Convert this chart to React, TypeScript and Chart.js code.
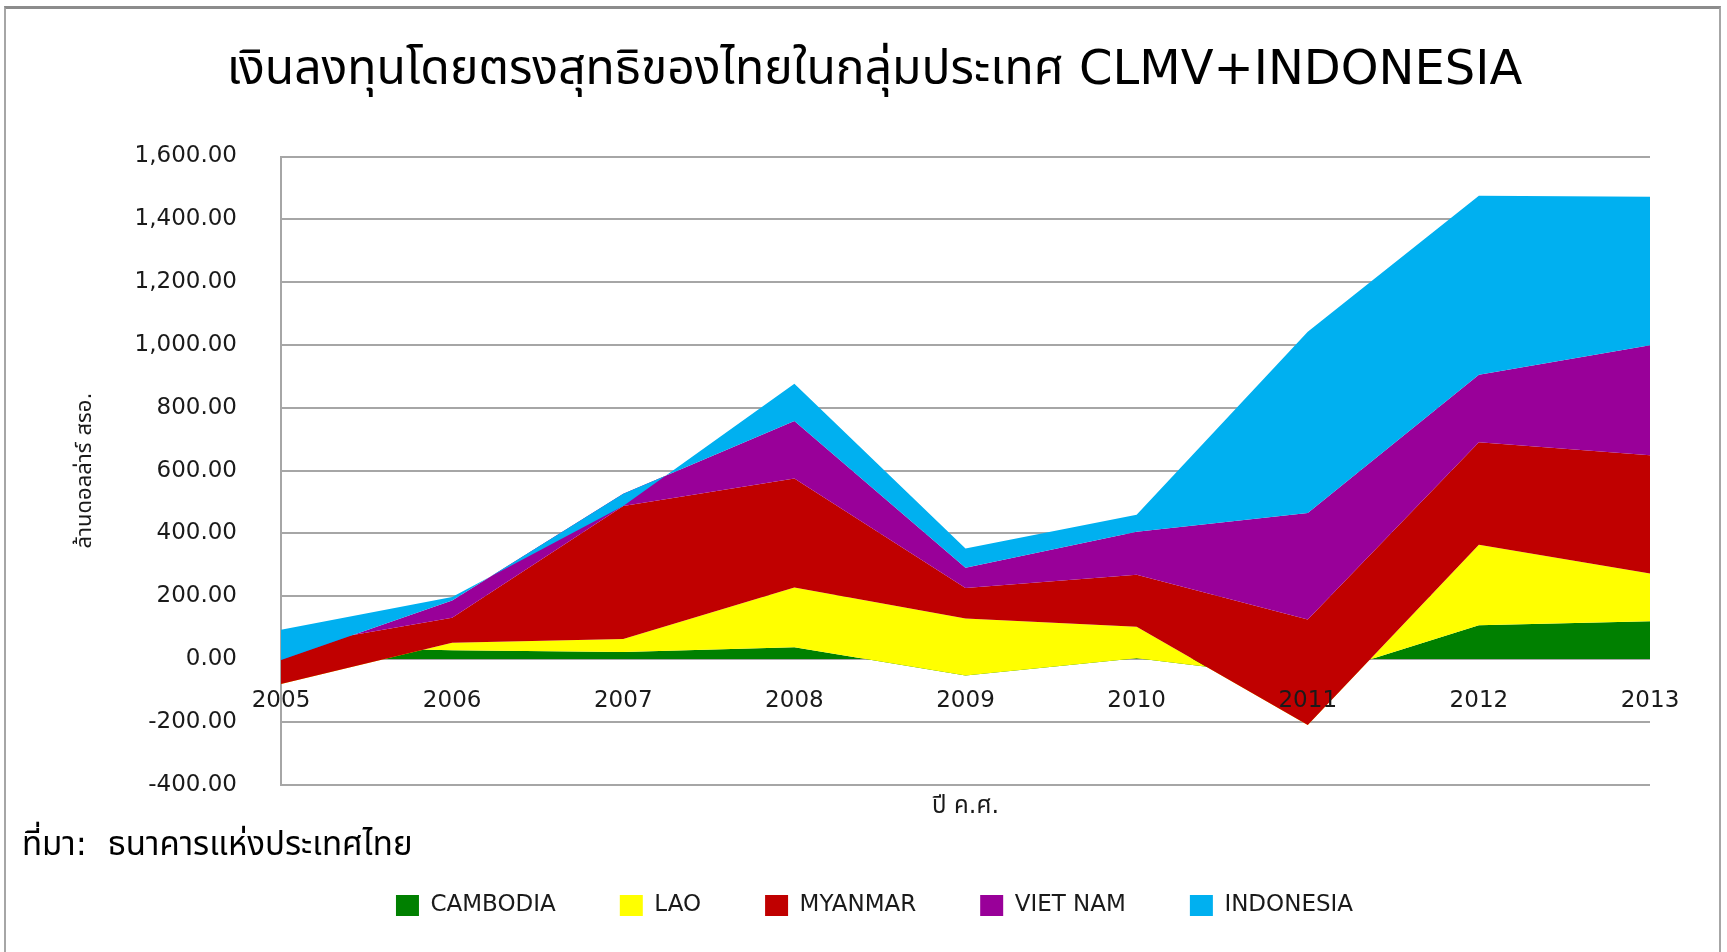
import React, { useEffect, useRef } from 'react';
import { Chart, registerables } from 'chart.js';

Chart.register(...registerables);

const FONT = "'DejaVu Sans', 'Noto Sans Thai', 'Noto Sans', sans-serif";

// Categories (years)
const years = ['2005', '2006', '2007', '2008', '2009', '2010', '2011', '2012', '2013'];

// Series values (million USD)
const cambodia = [40, 27.5, 22, 37, -52.5, 2, -64, 107.5, 120];
const lao = [-120, 24.5, 42, 191, 181.5, 101, -146, 256.5, 152];
const myanmar = [116.5, 79.5, 423, 347, 97, 165, 336, 326, 376.6];
const vietnam = [-39.5, 54.5, 39, 182.5, 64.6, 137, 339, 215, 350.4];
const indonesia = [96, 11, -39, 119, 61.4, 54, 577, 570, 473];

const seriesNames = ['CAMBODIA', 'LAO', 'MYANMAR', 'VIET NAM', 'INDONESIA'];
const seriesColors = ['#008000', '#FFFF00', '#C00000', '#990099', '#00B0F0'];

// Axis settings
const yMin = -400;
const yMax = 1600;
const yStep = 200;

const titleText = 'เงินลงทุนโดยตรงสุทธิของไทยในกลุ่มประเทศ CLMV+INDONESIA';
const yTitle = 'ล้านดอลล่าร์ สรอ.';
const xTitle = 'ปี ค.ศ.';
const sourceText = 'ที่มา:\u00a0 ธนาคารแห่งประเทศไทย';

export default function App() {
  const ref = useRef<HTMLCanvasElement | null>(null);

  useEffect(() => {
    if (!ref.current) return;
    Chart.defaults.font.family = FONT;

    const seriesValues = [cambodia, lao, myanmar, vietnam, indonesia];
    // Excel-like stacked area: plain running sum regardless of sign
    const cumulative = seriesValues.map((_, k) =>
      years.map((__, j) => seriesValues.slice(0, k + 1).reduce((s, arr) => s + arr[j], 0))
    );

    const chart = new Chart(ref.current, {
      type: 'line',
      data: {
        labels: years,
        datasets: seriesNames.map((name, k) => ({
          label: name,
          data: cumulative[k],
          xAxisID: 'x',
          yAxisID: 'y',
          fill: k === 0 ? 'origin' : '-1',
          backgroundColor: seriesColors[k],
          borderColor: seriesColors[k],
          borderWidth: 0,
          showLine: false,
          pointRadius: 0,
          pointHoverRadius: 0,
          tension: 0,
          order: seriesNames.length - k,
        })),
      },
      options: {
        animation: false,
        responsive: false,
        devicePixelRatio: 1,
        events: [],
        layout: { padding: { top: 0, left: 64, right: 42, bottom: 25 } },
        plugins: {
          tooltip: { enabled: false },
          title: {
            display: true,
            text: titleText,
            color: '#000000',
            font: { family: FONT, size: 48, weight: 'normal' },
            padding: { top: 43.2, bottom: 55.7 },
          },
          legend: {
            display: true,
            position: 'bottom',
            labels: {
              boxWidth: 23,
              boxHeight: 21,
              padding: 64,
              color: '#1a1a1a',
              font: { family: FONT, size: 23 },
              sort: (a: any, b: any) => a.datasetIndex - b.datasetIndex,
            },
          },
        },
        scales: {
          x: {
            type: 'category',
            position: { y: 0 } as any,
            offset: false,
            grid: { display: false, drawTicks: false },
            border: { display: false },
            ticks: {
              z: 1,
              color: '#1a1a1a',
              font: { family: FONT, size: 23 },
              padding: 28,
              maxRotation: 0,
              autoSkip: false,
            },
            afterFit: (s: any) => {
              s.height = 0;
            },
          },
          xt: {
            type: 'category',
            position: 'bottom',
            offset: false,
            grid: { display: false, drawTicks: false },
            border: { display: false },
            ticks: { display: false },
            title: {
              display: true,
              text: xTitle,
              color: '#1a1a1a',
              font: { family: FONT, size: 24 },
              padding: { top: 8, bottom: 8.6 },
            },
          },
          y: {
            type: 'linear',
            position: 'left',
            min: yMin,
            max: yMax,
            ticks: {
              stepSize: yStep,
              color: '#1a1a1a',
              font: { family: FONT, size: 23 },
              padding: 44,
              callback: (v: any) =>
                Number(v).toLocaleString('en-US', { minimumFractionDigits: 2, maximumFractionDigits: 2 }),
            },
            grid: { color: '#a6a6a6', lineWidth: 2, drawTicks: false },
            border: { display: true, color: '#a6a6a6', width: 2 },
            title: {
              display: true,
              text: yTitle,
              color: '#1a1a1a',
              font: { family: FONT, size: 22 },
              padding: { top: 8, bottom: 0 },
            },
            afterFit: (s: any) => {
              s.width = 217;
            },
          },
          yr: {
            type: 'linear',
            position: 'right',
            grid: { display: false, drawTicks: false },
            border: { display: false },
            ticks: { display: false },
            afterFit: (s: any) => {
              s.width = 35;
            },
          },
        },
      } as any,
    });

    return () => chart.destroy();
  }, []);

  return (
    <div style={{ position: 'absolute', left: 0, top: 0, width: 1727, height: 952, background: '#ffffff', overflow: 'hidden' }}>
      <div
        style={{
          position: 'absolute',
          left: 4,
          top: 6,
          width: 1713,
          height: 960,
          borderTop: '3px solid #8c8c8c',
          borderLeft: '2px solid #a6a6a6',
          borderRight: '2px solid #a6a6a6',
        }}
      />
      <canvas ref={ref} width={1727} height={952} style={{ position: 'absolute', left: 0, top: 0 }} />
      <div
        style={{
          position: 'absolute',
          left: 22,
          top: 824,
          fontFamily: FONT,
          fontSize: 33,
          lineHeight: '40px',
          color: '#000000',
          whiteSpace: 'nowrap',
        }}
      >
        {sourceText}
      </div>
    </div>
  );
}
